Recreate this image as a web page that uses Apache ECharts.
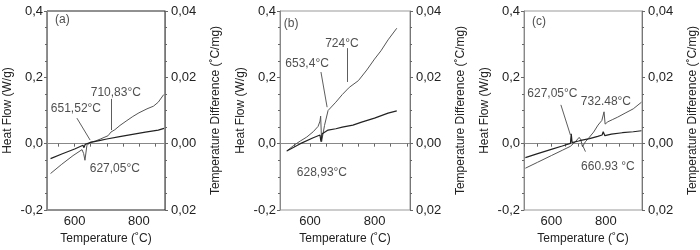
<!DOCTYPE html>
<html>
<head>
<meta charset="utf-8">
<script src="https://cdn.jsdelivr.net/npm/echarts@6/dist/echarts.min.js"></script>
<style>
  html, body { margin: 0; padding: 0; background: #fff; }
  #chart { width: 700px; height: 250px; }
</style>
</head>
<body>
<div id="chart"></div>
<script>
// panel (a)
const aSteepT = [525, 560, 595, 623, 628, 632, 638, 648, 665, 680, 704, 710, 713, 725, 741, 760, 781, 800, 825, 845, 860, 877];
const aSteepV = [-0.09, -0.062, -0.036, -0.018, -0.03, -0.05, -0.006, 0.004, 0.008, 0.014, 0.024, 0.027, 0.035, 0.042, 0.055, 0.068, 0.082, 0.093, 0.105, 0.113, 0.125, 0.148];
const aFlatT = [525, 560, 600, 626, 629, 633, 650, 680, 700, 740, 780, 820, 860, 878];
const aFlatV = [-0.045, -0.031, -0.016, -0.005, -0.012, -0.002, 0.004, 0.01, 0.014, 0.021, 0.028, 0.035, 0.041, 0.046];

// panel (b)
const bSteepT = [528, 550, 570, 590, 610, 625, 631, 633, 636, 645, 656, 662, 680, 700, 714, 722, 726, 750, 776, 800, 820, 842, 869];
const bSteepV = [-0.022, -0.005, 0.008, 0.02, 0.036, 0.052, 0.068, 0.083, 0.006, 0.055, 0.1, 0.104, 0.125, 0.148, 0.162, 0.17, 0.168, 0.19, 0.222, 0.255, 0.28, 0.313, 0.348];
const bFlatT = [528, 570, 610, 631, 634, 638, 656, 680, 700, 733, 760, 800, 842, 869];
const bFlatV = [-0.022, 0.0, 0.018, 0.026, 0.006, 0.03, 0.041, 0.045, 0.05, 0.056, 0.065, 0.077, 0.092, 0.099];

// panel (c)
const cSteepT = [505, 550, 600, 640, 670, 688, 702, 708, 714, 725, 736, 755, 771, 785, 793, 797, 807, 825, 843, 870, 900, 930];
const cSteepV = [-0.074, -0.056, -0.036, -0.02, -0.008, 0.006, 0.019, 0.012, -0.009, 0.006, 0.016, 0.035, 0.056, 0.07, 0.096, 0.059, 0.066, 0.073, 0.08, 0.092, 0.105, 0.125];
const cFlatT = [505, 550, 600, 640, 670, 673, 676, 700, 708, 712, 740, 770, 786, 790, 796, 820, 860, 900, 930];
const cFlatV = [-0.042, -0.03, -0.017, -0.007, 0.001, 0.03, 0.003, 0.008, 0.01, 0.004, 0.015, 0.022, 0.026, 0.036, 0.024, 0.029, 0.033, 0.036, 0.039];

// x ranges and ticks
const xRanges = [[514, 881], [507, 910], [500, 932]];
const xLabels = [600, 800];
const xTicks = [[550, 600, 650, 700, 750, 800, 850], [550, 600, 650, 700, 750, 800, 850, 900], [500, 550, 600, 650, 700, 750, 800, 850, 900]];

// annotations: [T, value, text, align]
const aNotes = [[539, 0.373, '(a)', 'left'], [604, 0.105, '651,52°C', 'center'], [728, 0.153, '710,83°C', 'center'], [725, -0.076, '627,05°C', 'center']];
const bNotes = [[519, 0.361, '(b)', 'left'], [591, 0.24, '653,4°C', 'center'], [699, 0.3, '724°C', 'center'], [637, -0.088, '628,93°C', 'center']];
const cNotes = [[529, 0.367, '(c)', 'left'], [604, 0.15, '627,05°C', 'center'], [800, 0.126, '732.48°C', 'center'], [807, -0.07, '660.93 °C', 'center']];
// leader lines: [T1, v1, T2, v2]
const aLeaders = [[607, 0.077, 648, 0.011], [713, 0.135, 713, 0.041]];
const bLeaders = [[634, 0.216, 653, 0.11], [715, 0.288, 715, 0.186]];
const cLeaders = [[635, 0.117, 670, 0.026], [725, -0.024, 714, -0.004]];

const font = 'Liberation Sans, Arial, sans-serif';
const grids = [
  { left: 47, top: 11, width: 118, height: 199 },
  { left: 280, top: 11, width: 130, height: 199 },
  { left: 524, top: 11, width: 121, height: 199 }
];
const frameColors = ['#222', '#999', '#999'];

const zip = (t, v) => t.map((x, i) => [x, v[i]]);
const panels = [
  { steep: zip(aSteepT, aSteepV), flat: zip(aFlatT, aFlatV), notes: aNotes, leaders: aLeaders },
  { steep: zip(bSteepT, bSteepV), flat: zip(bFlatT, bFlatV), notes: bNotes, leaders: bLeaders },
  { steep: zip(cSteepT, cSteepV), flat: zip(cFlatT, cFlatV), notes: cNotes, leaders: cLeaders }
];

const axisLine = { lineStyle: { color: '#888', width: 1 } };
const labelStyle = { color: '#222', fontSize: 13, fontFamily: font };
const nameStyle = { color: '#222', fontSize: 12, fontFamily: font };

const option = {
  animation: false,
  backgroundColor: '#fff',
  grid: grids.map((g, i) => Object.assign({ show: true, borderColor: frameColors[i], borderWidth: 1 }, g)),
  xAxis: [],
  yAxis: [],
  series: []
};

panels.forEach((p, i) => {
  option.xAxis.push({
    type: 'value', gridIndex: i, min: xRanges[i][0], max: xRanges[i][1],
    name: 'Temperature (˚C)', nameLocation: 'middle', nameGap: 23, nameTextStyle: nameStyle,
    axisLine: axisLine, splitLine: { show: false },
    axisTick: { show: true, length: 3, customValues: xTicks[i], lineStyle: { color: '#666' } },
    axisLabel: Object.assign({ customValues: xLabels, margin: 5 }, labelStyle)
  });
  option.yAxis.push({
    type: 'value', gridIndex: i, position: 'left', min: -0.2, max: 0.4, interval: 0.2,
    name: 'Heat Flow (W/g)', nameLocation: 'middle', nameGap: 33, nameTextStyle: nameStyle,
    axisLine: { show: true, lineStyle: { color: '#888' } }, splitLine: { show: false },
    axisTick: { show: true, length: 3, lineStyle: { color: '#666' } },
    minorTick: { show: true, splitNumber: 4, length: 2, lineStyle: { color: '#666' } },
    axisLabel: Object.assign({ margin: 4, formatter: v => v.toFixed(1).replace('.', ',') }, labelStyle)
  });
  option.yAxis.push({
    type: 'value', gridIndex: i, position: 'right', min: -0.02, max: 0.04, interval: 0.02,
    name: 'Temperature Difference (˚C/mg)', nameLocation: 'middle', nameGap: 45, nameTextStyle: nameStyle,
    axisLine: { show: true, lineStyle: { color: '#777' } }, splitLine: { show: false },
    axisTick: { show: true, length: 3, lineStyle: { color: '#666' } },
    minorTick: { show: true, splitNumber: 4, length: 2, lineStyle: { color: '#666' } },
    axisLabel: Object.assign({ margin: 6, formatter: v => Math.abs(v).toFixed(2).replace('.', ',') }, labelStyle)
  });

  option.series.push({
    type: 'line', xAxisIndex: i, yAxisIndex: 2 * i, data: p.steep, showSymbol: false,
    lineStyle: { color: '#555', width: 1 }
  });
  option.series.push({
    type: 'line', xAxisIndex: i, yAxisIndex: 2 * i, data: p.flat, showSymbol: false,
    lineStyle: { color: '#222', width: 1.2 }
  });
  option.series.push({
    type: 'scatter', xAxisIndex: i, yAxisIndex: 2 * i, symbolSize: 0, silent: true,
    data: p.notes.map(n => ({
      value: [n[0], n[1]], name: n[2],
      label: { show: true, position: 'inside', align: n[3], formatter: '{b}', color: '#222', fontSize: 12, fontFamily: font }
    })),
    markLine: {
      silent: true, symbol: 'none', label: { show: false },
      lineStyle: { color: '#333', width: 0.8, type: 'solid' },
      data: p.leaders.map(l => [{ coord: [l[0], l[1]] }, { coord: [l[2], l[3]] }])
    }
  });
});

const chart = echarts.init(document.getElementById('chart'), null, { renderer: 'canvas' });
chart.setOption(option);
</script>
</body>
</html>
